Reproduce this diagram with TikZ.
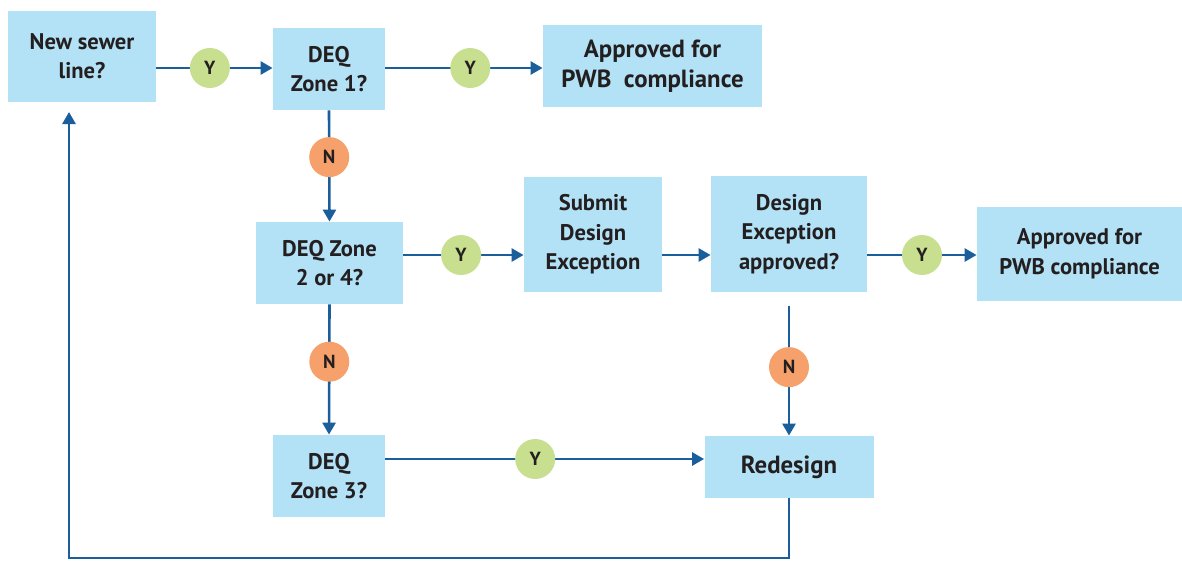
\documentclass[tikz,border=0pt]{standalone}
\usepackage{fontspec}
\setmainfont{PT Sans}
\usepackage{tikz}
\usetikzlibrary{arrows.meta}

\definecolor{boxblue}{HTML}{B3E2F6}
\definecolor{flowblue}{HTML}{1A5E9C}
\definecolor{yesgreen}{HTML}{C7DF8F}
\definecolor{nored}{HTML}{F6A16B}
\definecolor{inkgray}{HTML}{231F20}

\begin{document}
\begin{tikzpicture}[x=0.5pt, y=-0.5pt,
    box/.style={fill=boxblue, align=center, inner sep=0pt, text=inkgray,
                font=\fontsize{11.3}{14.8}\selectfont\bfseries},
    yes/.style={circle, fill=yesgreen, minimum size=20pt, inner sep=0pt, text=inkgray,
                font=\fontsize{9.5}{10}\selectfont\bfseries},
    no/.style={yes, fill=nored},
    flow/.style={draw=flowblue, line width=1.3pt, -{Triangle[length=6pt,width=6.5pt]}}]
    \useasboundingbox (0,0) rectangle (1182,563);

    % Rows and columns of the connectors
    \coordinate (rowA) at (0,68);
    \coordinate (rowB) at (0,255);
    \coordinate (rowC) at (0,459);
    \coordinate (rowD) at (0,558);
    \coordinate (back) at (69,112);

    % Boxes
    \node[box, minimum width=74pt, minimum height=45.5pt] (newline) at (82,56) {New sewer\\line?};
    \node[box, minimum width=56pt, minimum height=41pt] (zone1) at (329,69) {DEQ\\Zone 1?};
    \node[box, minimum width=109.5pt, minimum height=41pt,
          font=\fontsize{12.4}{15.2}\selectfont\bfseries] (okA) at (652.5,66) {Approved for\\PWB\ \ compliance};
    \node[box, minimum width=73.5pt, minimum height=41pt] (zone2) at (329.5,263) {DEQ Zone\\2 or 4?};
    \node[box, minimum width=69pt, minimum height=57.5pt] (submit) at (593,234.5) {Submit\\Design\\Exception};
    \node[box, minimum width=78pt, minimum height=58pt] (deapp) at (789,234) {Design\\Exception\\approved?};
    \node[box, minimum width=102.5pt, minimum height=47pt] (okB) at (1079.5,254) {Approved for\\PWB compliance};
    \node[box, minimum width=56pt, minimum height=41pt] (zone3) at (329,476) {DEQ\\Zone 3?};
    \node[box, minimum width=84.5pt, minimum height=31pt,
          font=\fontsize{12.4}{15}\selectfont\bfseries] (redesign) at (789,467) {Redesign};

    % Yes branches
    \draw[flow] (newline.east |- rowA) -- node[yes, pos=0.46] {Y} (zone1.west |- rowA);
    \draw[flow] (zone1.east |- rowA) -- node[yes, pos=0.54] {Y} (okA.west |- rowA);
    \draw[flow] (zone2.east |- rowB) -- node[yes, pos=0.48] {Y} (submit.west |- rowB);
    \draw[flow] (submit.east |- rowB) -- (deapp.west |- rowB);
    \draw[flow] (deapp.east |- rowB) -- node[yes, pos=0.5] {Y} (okB.west |- rowB);
    \draw[flow] (zone3.east |- rowC) -- node[yes, pos=0.47] {Y} (redesign.west |- rowC);

    % No branches
    \draw[flow] (zone1.south) -- node[no, pos=0.42] {N} (zone2.north);
    \draw[flow] (zone2.south) -- node[no, pos=0.44] {N} (zone3.north);
    \draw[flow] ([yshift=-7pt]deapp.south) -- node[no, pos=0.47] {N} (redesign.north);

    % Back to the start
    \draw[flow] (redesign.south) |- (back |- rowD) -- (back);
\end{tikzpicture}
\end{document}
